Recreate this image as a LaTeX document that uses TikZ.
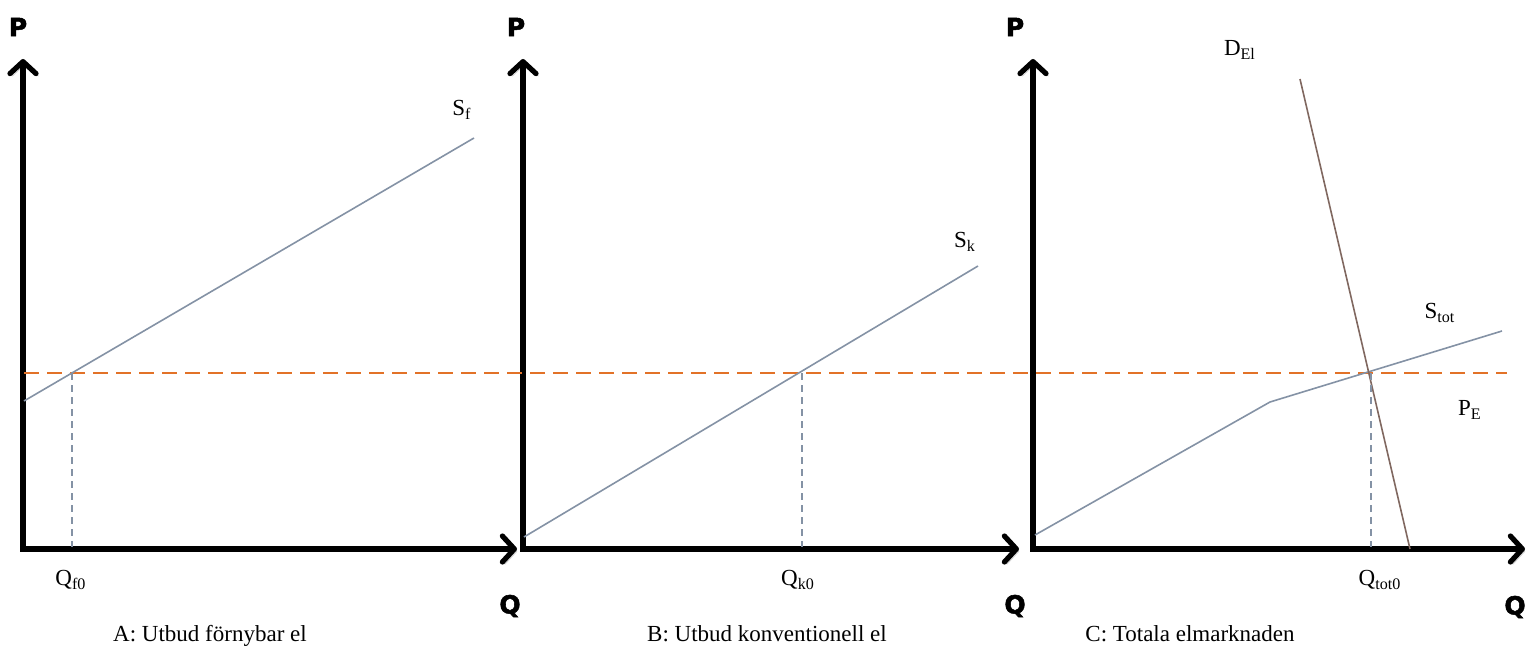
\documentclass[tikz,border=0pt]{standalone}
\usepackage{fontspec}
\setmainfont{Liberation Serif}
\newfontfamily\axisfont[BoldFont={DejaVu Sans Bold}, BoldFeatures={FakeBold=2}]{DejaVu Sans}
\usetikzlibrary{arrows.meta}

\definecolor{supplygray}{RGB}{132,146,165}
\definecolor{demandbrown}{RGB}{128,104,96}
\definecolor{priceorange}{RGB}{226,114,40}

\begin{document}
\begin{tikzpicture}[x=0.5pt, y=-0.5pt,
    axis/.style={line width=2.6pt, line join=miter,
        {Straight Barb[length=6pt,width=13pt,round]}-{Straight Barb[length=6pt,width=13pt,round]},
        preaction={draw=black!18, transform canvas={shift={(1.2pt,-1.2pt)}}}},
    axlab/.style={font=\axisfont\bfseries\fontsize{12.5}{12.5}\selectfont, inner sep=0pt},
    lab/.style={font=\fontsize{11.5}{12}\selectfont, inner sep=1pt},
    caption/.style={lab, anchor=base},
    supply/.style={line width=0.8pt, supplygray},
    demand/.style={line width=0.8pt, demandbrown},
    guide/.style={line width=0.8pt, supplygray, dash pattern=on 3.5pt off 2.5pt},
    price/.style={line width=1.1pt, priceorange, dash pattern=on 7.5pt off 4pt}]
    \useasboundingbox (0,0) rectangle (1528,648);

    % axlar, panel A
    \coordinate (oA) at (23,549);
    \coordinate (pA) at (23,59);
    \coordinate (qA) at (517,549);
    \draw[axis] (pA) -- (oA) -- (qA);
    \node[axlab] (PA) at (18,27) {P};
    \node[axlab] (QA) at (510,606) {Q};

    % axlar, panel B
    \coordinate (oB) at (523,549);
    \coordinate (pB) at (523,59);
    \coordinate (qB) at (1019,549);
    \draw[axis] (pB) -- (oB) -- (qB);
    \node[axlab] (PB) at (516,27) {P};
    \node[axlab] (QB) at (1015,606) {Q};

    % axlar, panel C
    \coordinate (oC) at (1033,549);
    \coordinate (pC) at (1033,59);
    \coordinate (qC) at (1525,549);
    \draw[axis] (pC) -- (oC) -- (qC);
    \node[axlab] (PC) at (1015,27) {P};
    \node[axlab] (QC) at (1515,607) {Q};

    % jämviktspris över alla tre marknader
    \coordinate (pe0) at (24,373);
    \coordinate (pe1) at (1507,373);
    \draw[price] (pe0) -- (pe1);

    % A: förnybar el
    \coordinate (sf0) at (24,401);
    \coordinate (sf1) at (474,138);
    \draw[supply] (sf0) -- (sf1);
    \coordinate (qf0top) at (72,373);
    \coordinate (qf0bot) at (72,547);
    \draw[guide] (qf0top) -- (qf0bot);
    \node[lab] (Sf) at (462,110) {S\textsubscript{f}};
    \node[lab] (Qf) at (71,580) {Q\textsubscript{f0}};
    \node[caption] (capA) at (210,641) {A: Utbud förnybar el};

    % B: konventionell el
    \coordinate (sk0) at (524,537);
    \coordinate (sk1) at (978,266);
    \draw[supply] (sk0) -- (sk1);
    \coordinate (qk0top) at (802,373);
    \coordinate (qk0bot) at (802,547);
    \draw[guide] (qk0top) -- (qk0bot);
    \node[lab] (Sk) at (965,242) {S\textsubscript{k}};
    \node[lab] (Qk) at (798,580) {Q\textsubscript{k0}};
    \node[caption] (capB) at (767,641) {B: Utbud konventionell el};

    % C: totala marknaden
    \coordinate (st0) at (1035,535);
    \coordinate (stk) at (1270,402);
    \coordinate (st1) at (1502,331);
    \draw[supply] (st0) -- (stk) -- (st1);
    \coordinate (d0) at (1300,79);
    \coordinate (d1) at (1410,549);
    \draw[demand] (d0) -- (d1);
    \coordinate (qt0top) at (1371,373);
    \coordinate (qt0bot) at (1371,547);
    \draw[guide] (qt0top) -- (qt0bot);
    \node[lab] (Stot) at (1440,313) {S\textsubscript{tot}};
    \node[lab] (DEl) at (1240,50) {D\textsubscript{El}};
    \node[lab] (PE) at (1470,410) {P\textsubscript{E}};
    \node[lab] (Qt) at (1380,580) {Q\textsubscript{tot0}};
    \node[caption] (capC) at (1190,641) {C: Totala elmarknaden};
\end{tikzpicture}
\end{document}
